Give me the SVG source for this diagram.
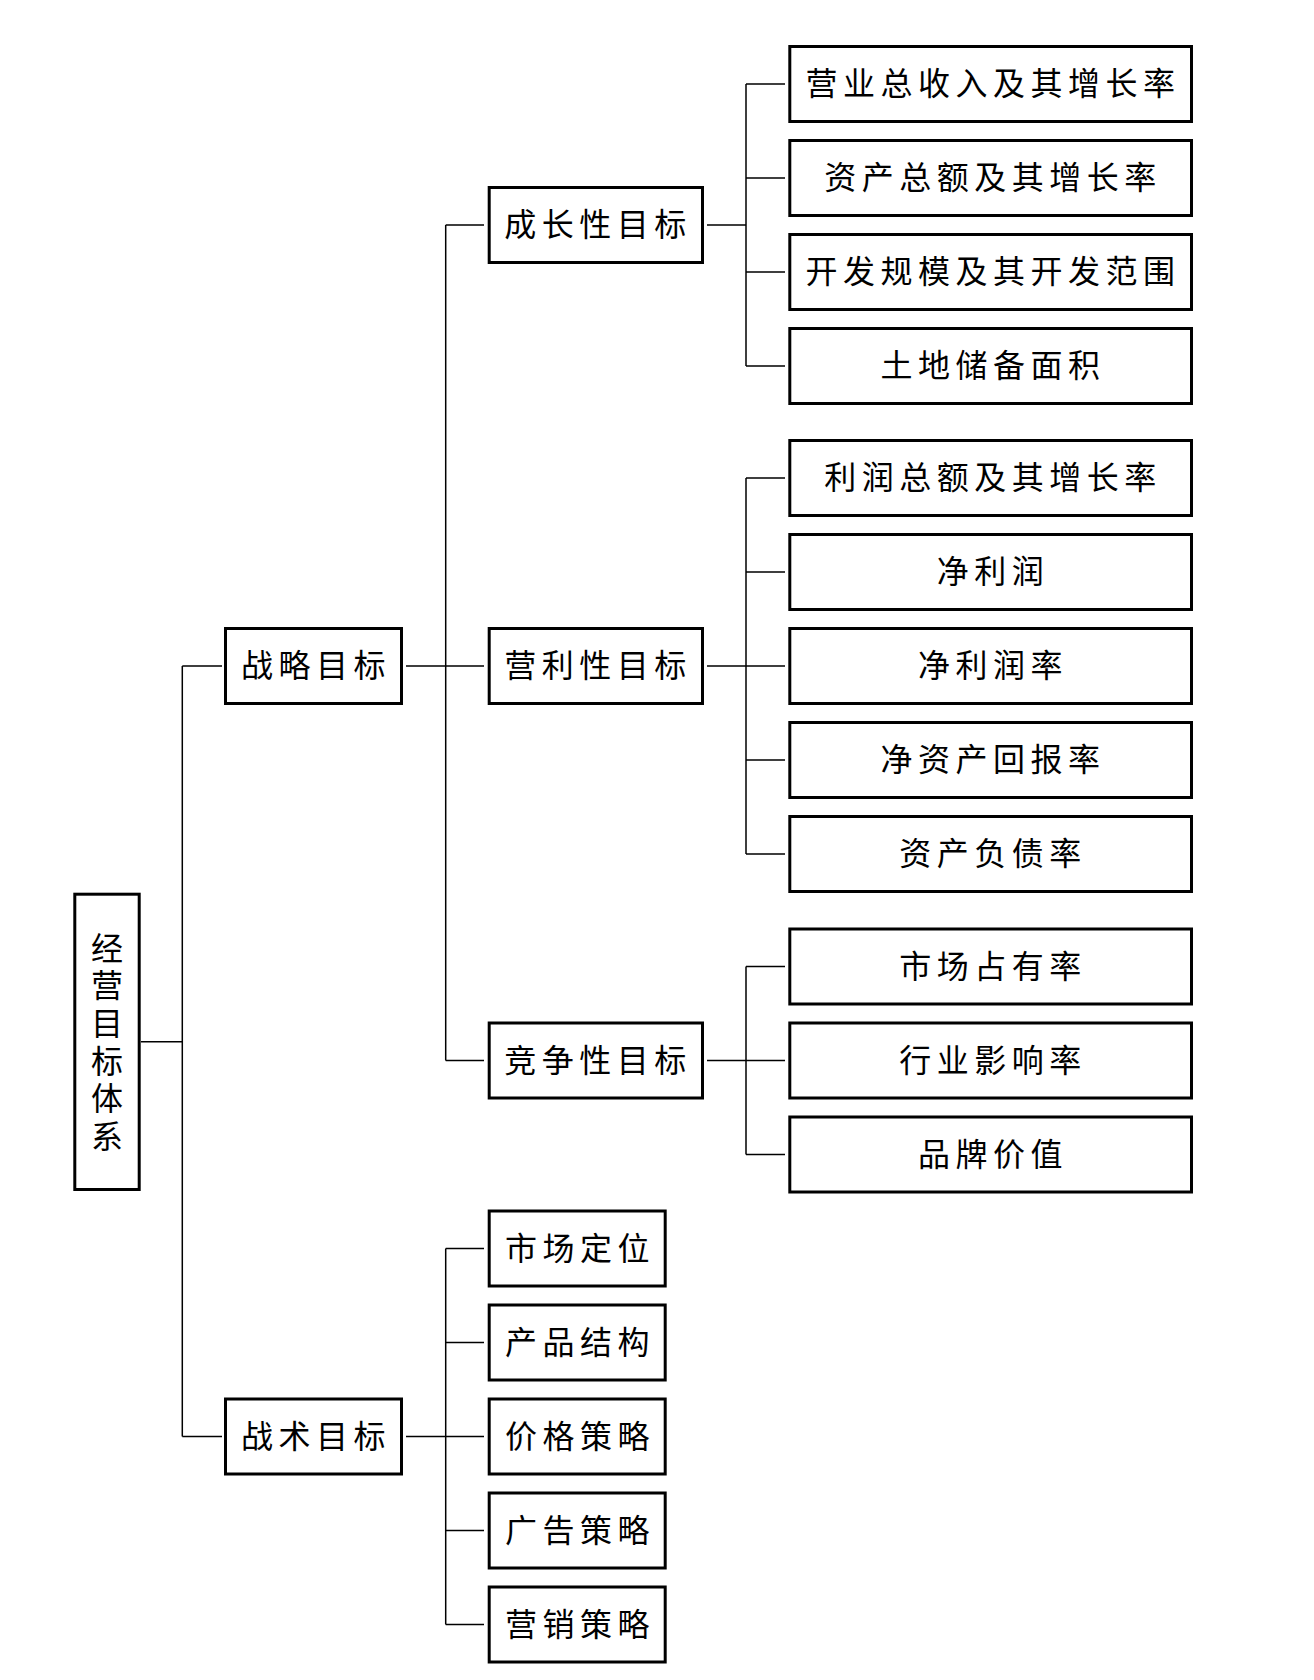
<svg xmlns="http://www.w3.org/2000/svg" width="1314" height="1680" viewBox="0 0 1314 1680">
<style>
.box{fill:#fff;stroke:#000;stroke-width:3}
.t{font-family:"Liberation Serif","Noto Sans CJK SC",serif;font-size:32px;fill:#000;text-anchor:middle;dominant-baseline:central;letter-spacing:5.5px}
.c{stroke:#000;stroke-width:1.5;fill:none}
</style>
<rect width="1314" height="1680" fill="#fff"/>
<g id="connectors">
<path class="c" d="M141 1041.7H182.3M182.3 666V1436.5M182.3 666H222M182.3 1436.5H222"/>
<path class="c" d="M406 666H484M445.7 225V1060.5M445.7 225H484M445.7 1060.5H484"/>
<path class="c" d="M406 1436.5H484M445.7 1248.5V1624.5M445.7 1248.5H484M445.7 1342.5H484M445.7 1530.5H484M445.7 1624.5H484"/>
<path class="c" d="M707 225H746M746 84V366M746 84H785M746 178H785M746 272H785M746 366H785"/>
<path class="c" d="M707 666H785M746 478V854M746 478H785M746 572H785M746 760H785M746 854H785"/>
<path class="c" d="M707 1060.5H785M746 966.5V1154.5M746 966.5H785M746 1154.5H785"/>
</g>
<g id="root"><rect class="box" x="74.8" y="894.2" width="64.4" height="295.3"/>
<text class="t" style="letter-spacing:0"><tspan x="107" y="948.5">经</tspan><tspan x="107" y="986.2">营</tspan><tspan x="107" y="1023.9">目</tspan><tspan x="107" y="1061.6">标</tspan><tspan x="107" y="1099.3">体</tspan><tspan x="107" y="1137">系</tspan></text></g>
<g id="strategic"><rect class="box" x="225.5" y="628.5" width="176" height="75"/><text class="t" x="316" y="666">战略目标</text></g>
<g id="tactical"><rect class="box" x="225.5" y="1399" width="176" height="75"/><text class="t" x="316" y="1436.5">战术目标</text></g>
<g id="growth"><rect class="box" x="489.2" y="187.5" width="213.3" height="75"/><text class="t" x="598" y="225">成长性目标</text></g>
<g id="profit"><rect class="box" x="489.2" y="628.5" width="213.3" height="75"/><text class="t" x="598" y="666">营利性目标</text></g>
<g id="compete"><rect class="box" x="489.2" y="1023" width="213.3" height="75"/><text class="t" x="598" y="1060.5">竞争性目标</text></g>
<g id="g1"><rect class="box" x="789.8" y="46.5" width="401.7" height="75"/><text class="t" x="993" y="84">营业总收入及其增长率</text></g>
<g id="g2"><rect class="box" x="789.8" y="140.5" width="401.7" height="75"/><text class="t" x="993" y="178">资产总额及其增长率</text></g>
<g id="g3"><rect class="box" x="789.8" y="234.5" width="401.7" height="75"/><text class="t" x="993" y="272">开发规模及其开发范围</text></g>
<g id="g4"><rect class="box" x="789.8" y="328.5" width="401.7" height="75"/><text class="t" x="993" y="366">土地储备面积</text></g>
<g id="p1"><rect class="box" x="789.8" y="440.5" width="401.7" height="75"/><text class="t" x="993" y="478">利润总额及其增长率</text></g>
<g id="p2"><rect class="box" x="789.8" y="534.5" width="401.7" height="75"/><text class="t" x="993" y="572">净利润</text></g>
<g id="p3"><rect class="box" x="789.8" y="628.5" width="401.7" height="75"/><text class="t" x="993" y="666">净利润率</text></g>
<g id="p4"><rect class="box" x="789.8" y="722.5" width="401.7" height="75"/><text class="t" x="993" y="760">净资产回报率</text></g>
<g id="p5"><rect class="box" x="789.8" y="816.5" width="401.7" height="75"/><text class="t" x="993" y="854">资产负债率</text></g>
<g id="c1"><rect class="box" x="789.8" y="929" width="401.7" height="75"/><text class="t" x="993" y="966.5">市场占有率</text></g>
<g id="c2"><rect class="box" x="789.8" y="1023" width="401.7" height="75"/><text class="t" x="993" y="1060.5">行业影响率</text></g>
<g id="c3"><rect class="box" x="789.8" y="1117" width="401.7" height="75"/><text class="t" x="993" y="1154.5">品牌价值</text></g>
<g id="t1"><rect class="box" x="489.2" y="1211" width="176" height="75"/><text class="t" x="580" y="1248.5">市场定位</text></g>
<g id="t2"><rect class="box" x="489.2" y="1305" width="176" height="75"/><text class="t" x="580" y="1342.5">产品结构</text></g>
<g id="t3"><rect class="box" x="489.2" y="1399" width="176" height="75"/><text class="t" x="580" y="1436.5">价格策略</text></g>
<g id="t4"><rect class="box" x="489.2" y="1493" width="176" height="75"/><text class="t" x="580" y="1530.5">广告策略</text></g>
<g id="t5"><rect class="box" x="489.2" y="1587" width="176" height="75"/><text class="t" x="580" y="1624.5">营销策略</text></g>
</svg>
